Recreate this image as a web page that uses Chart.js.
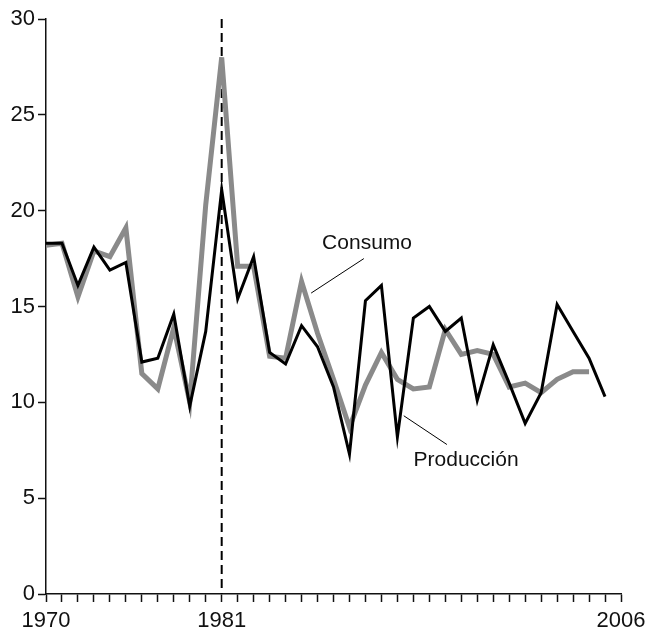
<!DOCTYPE html>
<html>
<head>
<meta charset="utf-8">
<script src="https://cdn.jsdelivr.net/npm/chart.js@4/dist/chart.umd.min.js"></script>
<style>
  html, body { margin: 0; padding: 0; background: #fff; }
  #c { display: block; }
</style>
</head>
<body>
<canvas id="c" width="646" height="630"></canvas>
<script>
// Años de la serie
const years = [1970, 1971, 1972, 1973, 1974, 1975, 1976, 1977, 1978, 1979,
               1980, 1981, 1982, 1983, 1984, 1985, 1986, 1987, 1988, 1989,
               1990, 1991, 1992, 1993, 1994, 1995, 1996, 1997, 1998, 1999,
               2000, 2001, 2002, 2003, 2004, 2005];

// Producción (1970–2005)
const produccion = [18.3, 18.3, 16.1, 18.1, 16.9, 17.3, 12.1, 12.3, 14.6, 9.8,
                    13.7, 21.1, 15.4, 17.6, 12.6, 12.0, 14.0, 12.9, 10.8, 7.3,
                    15.3, 16.1, 8.2, 14.4, 15.0, 13.7, 14.4, 10.1, 13.0, 11.0,
                    8.9, 10.5, 15.1, 13.7, 12.3, 10.3];

// Consumo (1970–2004)
const consumo = [18.2, 18.3, 15.5, 17.9, 17.6, 19.1, 11.5, 10.7, 13.9, 10.0,
                 20.3, 28.0, 17.1, 17.1, 12.4, 12.3, 16.3, 13.6, 11.2, 8.7,
                 10.9, 12.6, 11.2, 10.7, 10.8, 13.8, 12.5, 12.7, 12.5, 10.8,
                 11.0, 10.5, 11.2, 11.6, 11.6];

// Ejes
const xLabeledYears = [1970, 1981, 2006];
const yTicks = [0, 5, 10, 15, 20, 25, 30];
const markerYear = 1981;

const FONT = '"Liberation Sans", Arial, Helvetica, sans-serif';

function toPoints(values) {
  return values.map((v, i) => ({ x: years[i], y: v }));
}

// Línea vertical discontinua y etiquetas con línea guía
const overlay = {
  id: 'overlay',
  beforeDatasetsDraw(chart) {
    const { ctx, chartArea, scales } = chart;
    const x = scales.x.getPixelForValue(markerYear);
    ctx.save();
    ctx.strokeStyle = '#000';
    ctx.lineWidth = 2;
    ctx.setLineDash([9, 5]);
    ctx.beginPath();
    ctx.moveTo(x, chartArea.top);
    ctx.lineTo(x, chartArea.bottom);
    ctx.stroke();
    ctx.restore();
  },
  afterDatasetsDraw(chart) {
    const { ctx, scales } = chart;
    const sx = scales.x, sy = scales.y;
    const px = v => sx.getPixelForValue(v);
    const py = v => sy.getPixelForValue(v);
    ctx.save();
    ctx.strokeStyle = '#000';
    ctx.lineWidth = 1;
    ctx.setLineDash([]);
    // Consumo
    ctx.beginPath();
    ctx.moveTo(px(1986.6), py(15.7));
    ctx.lineTo(px(1989.9), py(17.5));
    ctx.stroke();
    // Producción
    ctx.beginPath();
    ctx.moveTo(px(1992.4), py(9.3));
    ctx.lineTo(px(1995.1), py(7.8));
    ctx.stroke();

    ctx.fillStyle = '#111';
    ctx.font = '21px ' + FONT;
    ctx.textAlign = 'center';
    ctx.textBaseline = 'middle';
    ctx.fillText('Consumo', px(1990.1), py(18.3));
    ctx.fillText('Producción', px(1996.3), py(7.0));
    ctx.restore();
  }
};

new Chart(document.getElementById('c'), {
  type: 'line',
  data: {
    datasets: [
      {
        label: 'Producción',
        data: toPoints(produccion),
        borderColor: '#000',
        borderWidth: 3,
        pointRadius: 0,
        tension: 0,
        borderJoinStyle: 'miter',
        fill: false
      },
      {
        label: 'Consumo',
        data: toPoints(consumo),
        borderColor: '#8a8a8a',
        borderWidth: 5,
        pointRadius: 0,
        tension: 0,
        borderJoinStyle: 'miter',
        fill: false
      }
    ]
  },
  options: {
    responsive: false,
    animation: false,
    events: [],
    layout: { padding: { top: 19, right: 25, left: 0, bottom: 0 } },
    plugins: {
      legend: { display: false },
      tooltip: { enabled: false }
    },
    scales: {
      x: {
        type: 'linear',
        min: 1970,
        max: 2006,
        afterFit(scale) {
          scale.height = 36;
          scale.paddingLeft = 0;
          scale.paddingRight = 0;
        },
        afterBuildTicks(scale) {
          const t = [];
          for (let y = 1970; y <= 2006; y++) t.push({ value: y });
          scale.ticks = t;
        },
        ticks: {
          autoSkip: false,
          maxRotation: 0,
          padding: 6,
          color: '#111',
          font: { family: FONT, size: 22 },
          callback: v => (xLabeledYears.includes(v) ? String(v) : '')
        },
        grid: {
          drawOnChartArea: false,
          drawTicks: true,
          tickLength: 8,
          tickWidth: 1.5,
          tickColor: '#111'
        },
        border: { display: true, color: '#111', width: 1.5 }
      },
      y: {
        min: 0,
        max: 30,
        afterFit(scale) {
          scale.width = 46;
          scale.paddingTop = 0;
          scale.paddingBottom = 0;
        },
        afterBuildTicks(scale) {
          scale.ticks = yTicks.map(v => ({ value: v }));
        },
        ticks: {
          padding: 3,
          color: '#111',
          font: { family: FONT, size: 22 }
        },
        grid: {
          drawOnChartArea: false,
          drawTicks: true,
          tickLength: 8,
          tickWidth: 1.5,
          tickColor: '#111'
        },
        border: { display: true, color: '#111', width: 1.5 }
      }
    }
  },
  plugins: [overlay]
});
</script>
</body>
</html>
